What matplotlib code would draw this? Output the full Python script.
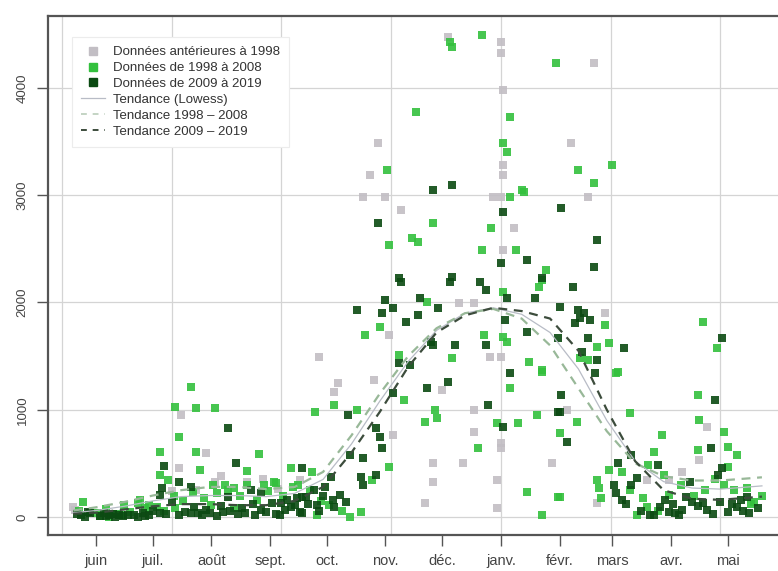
import matplotlib.pyplot as plt
from matplotlib.lines import Line2D

plt.rcParams["font.family"] = ["Liberation Sans", "DejaVu Sans"]

# x = days since 1 June, y = value
MONTH_DAYS = [0, 30, 61, 92, 122, 153, 183, 214, 245, 273, 304, 334]
MONTH_LABELS = ["juin", "juil.", "août", "sept.", "oct.", "nov.", "déc.",
                "janv.", "févr.", "mars", "avr.", "mai"]
Y_TICKS = [0, 1000, 2000, 3000, 4000]
GRID_DAYS = [-18, 40, 98, 156, 214, 272, 330]

# Données antérieures à 1998
old_x = [45, 58, 44, 63, -11, 128, 126, 147, 183, 200, 200, 214, 214, 157, 178,
         194, 178, 174, 212, 212, 241, 108, 249, 323, 319, 291, 310, 303, 265,
         263, 251, 260, 269, 141, 153, 161, 210, 214, 221, 215, 192, 200, 155,
         118, 208, 214, 186, 214, 214, 215, 149, 145, 215, 215, 53, 80,
         -12, 40, 66, 88, 96]
old_y = [951, 597, 457, 326, 65, 1249, 1165, 1277, 1184, 998, 793, 690, 643, 765,
         503, 503, 326, 130, 345, 84, 503, 345, 998, 839, 531, 345, 420, 345, 130,
         4233, 3487, 2984, 1902, 2984, 2984, 2862, 2984, 2984, 2695, 2490, 1995,
         1995, 1697, 1492, 1492, 1492, 4476, 4429, 4326, 3981, 3487, 3189, 3282,
         3189, 252, 326,
         90, 240, 380, 350, 260]

# Données de 1998 à 2008
mid_x = [-7, 2, 7, 13, 22, 23, 32, 50, 42, 53, 63, 44, 34, 53, 86, 55, 80, 103,
         34, 38, 68, 73, 64, 80, 89, 95, 104, 15, 26, 42, 61, 73, 94, 116, 126,
         138, 163, 179, 180, 174, 219, 236, 212, 223, 233, 202, 228, 236, 244,
         155, 114, 146, 117, 123, 134, 140, 275, 254, 245, 282, 299, 318, 319,
         332, 318, 334, 339, 295, 292, 271, 334, 332, 344, 265, 266, 267, 245,
         322, 289, 291, 286, 303, 278, 348, 243, 255, 263, 273, 269, 265, 271,
         256, 260, 276, 321, 328, 178, 155, 167, 170, 219, 226, 209, 204, 222,
         238, 236, 234, 215, 175, 150, 142, 205, 215, 217, 188, 160, 229, 236,
         187, 188, 204, 169, 219, 154, 215, 217, 225,
         -9, 0, 5, 11, 18, 28, 36, 41, 46, 51, 57, 62, 70, 76, 85, 91, 99, 107,
         113, 119, 130, 282, 297, 309, 316, 327, 346, 352, 300, 337]
mid_y = [140, 9, 0, 19, 130, 158, 93, 1212, 1026, 1016, 1016, 746, 606, 606, 587,
         438, 429, 457, 392, 345, 298, 270, 224, 298, 298, 317, 280, 112, 84, 84,
         112, 84, 326, 979, 1044, 998, 1091, 998, 923, 886, 1203, 1352, 876, 876,
         951, 643, 233, 19, 186, 466, 420, 345, 19, 112, 0, 47, 1343, 886, 783,
         970, 765, 1138, 904, 793, 625, 653, 578, 606, 485, 438, 466, 298, 270,
         345, 270, 177, 186, 252, 177, 93, 19, 205, 420, 140, 4233, 3235, 3114,
         3282, 1790, 1585, 1622, 1482, 1464, 1352, 1818, 1576, 2741, 2536, 2601,
         2564, 2984, 3030, 2695, 2490, 2490, 2303, 2210, 2145, 2098, 2005, 1772,
         1697, 1697, 1678, 1632, 1482, 1510, 1445, 1371, 4429, 4382, 4494, 3776,
         3730, 3235, 3487, 3403, 3049,
         60, 40, 70, 30, 50, 110, 60, 200, 150, 230, 180, 300, 250, 200, 160,
         240, 200, 300, 250, 150, 60, 250, 60, 300, 200, 350, 120, 200, 390, 250]

# Données de 2009 à 2019
new_x = [-8, -6, -3, 7, 20, 25, 34, 5, 10, 12, 22, 26, 35, 36, 34, 40, 44, 50,
         70, 74, 82, 87, 70, 101, 98, 109, 109, 44, 54, 58, 64, 67, 75, 77, 84,
         87, 95, 100, 105, 108, 50, 124, 121, 115, 111, 129, 132, 109, 117, 125,
         134, 141, 140, 141, 148, 133, 157, 175, 186, 207, 219, 215, 244, 148,
         150, 151, 264, 246, 245, 249, 327, 325, 283, 297, 276, 331, 329, 286,
         283, 274, 275, 278, 314, 293, 295, 301, 303, 306, 312, 315, 310, 321,
         323, 334, 339, 341, 344, 345, 330, 246, 265, 263, 252, 245, 255, 258,
         261, 256, 253, 244, 260, 279, 257, 265, 331, 178, 188, 149, 215, 214,
         228, 236, 160, 161, 188, 187, 203, 206, 217, 232, 153, 171, 138, 157,
         151, 181, 170, 164, 216, 228, 177, 178, 190, 206, 160, 166,
         -10, -4, 2, 4, 9, 14, 17, 28, 30, 37, 47, 52, 56, 60, 66, 71, 79, 83,
         90, 93, 97, 103, 106, 112, 118, 120, 126,
         280, 288, 298, 305, 318, 326, 336, 342, 350, 308]
new_y = [19, 0, 37, 19, 19, 37, 37, 9, 0, 19, 0, 9, 270, 475, 205, 140, 326, 280,
         830, 503, 252, 224, 186, 158, 130, 186, 457, 19, 37, 65, 9, 47, 28, 84,
         19, 65, 28, 65, 112, 47, 37, 373, 280, 252, 186, 205, 140, 37, 112, 158,
         578, 550, 373, 298, 392, 951, 1156, 1203, 1259, 1044, 1343, 839, 979,
         830, 746, 643, 1343, 1138, 979, 699, 1091, 643, 578, 485, 503, 457, 392,
         364, 298, 298, 224, 158, 326, 19, 19, 158, 47, 37, 186, 140, 65, 130,
         65, 47, 93, 158, 186, 37, 140, 2881, 2583, 2331, 2145, 1958, 1930, 1902,
         1837, 1855, 1809, 1669, 1669, 1576, 1538, 1464, 1669, 3049, 3096, 2741,
         2844, 2368, 2396, 2228, 2228, 2191, 2238, 2191, 2191, 2117, 2042, 2042,
         2023, 2042, 1930, 1949, 1902, 1949, 1883, 1818, 1837, 1725, 1632, 1604,
         1604, 1604, 1436, 1417,
         30, 50, 10, 40, 30, 5, 20, 15, 60, 25, 50, 90, 20, 40, 100, 60, 40, 120,
         50, 130, 20, 90, 180, 120, 60, 200, 90,
         120, 60, 90, 120, 100, 30, 120, 60, 80, 20]

# Smoothed trends
trend_x = [-12, 0, 15, 30, 45, 60, 75, 90, 105, 120, 135, 150, 165, 180, 195,
           210, 225, 240, 255, 270, 285, 300, 315, 330, 345, 352]
trend_all = [40, 60, 100, 150, 190, 200, 200, 190, 220, 350, 680, 1080, 1450,
             1740, 1900, 1950, 1890, 1720, 1380, 900, 520, 330, 270, 260, 280, 290]
trend_9808 = [60, 90, 140, 200, 250, 280, 280, 260, 280, 420, 760, 1150, 1500,
              1760, 1900, 1940, 1850, 1600, 1200, 800, 500, 380, 340, 340, 360, 370]
trend_0919 = [30, 40, 70, 100, 120, 120, 110, 110, 150, 280, 600, 980, 1400,
              1720, 1880, 1950, 1920, 1850, 1550, 1000, 520, 250, 170, 160, 180, 190]

GRAY = "#c2bec4"
LIGHT = "#33c03d"
DARK = "#0b4a12"
TICK_TEXT = "#444444"

fig = plt.figure(figsize=(7.78, 5.71), dpi=100)
ax = fig.add_axes([48 / 778, 36 / 571, 730 / 778, 519 / 571])

for gx in GRID_DAYS:
    ax.axvline(gx, color="#d4d4d4", lw=0.9, zorder=0)
for gy in Y_TICKS:
    ax.axhline(gy, color="#d4d4d4", lw=0.9, zorder=0)

ms = 40
ax.scatter(old_x, old_y, s=ms, marker="s", color=GRAY, lw=0, alpha=0.9, zorder=2)
ax.scatter(mid_x, mid_y, s=ms, marker="s", color=LIGHT, lw=0, alpha=0.9, zorder=3)
ax.scatter(new_x, new_y, s=ms, marker="s", color=DARK, lw=0, alpha=0.9, zorder=4)

ax.plot(trend_x, trend_all, color="#b8bcc6", lw=0.9, zorder=5)
ax.plot(trend_x, trend_9808, color="#98b898", lw=1.6, ls=(0, (4, 3)), zorder=5)
ax.plot(trend_x, trend_0919, color="#3c4c3c", lw=1.6, ls=(0, (4, 3)), zorder=5)

ax.set_xlim(-25.4, 360.5)
ax.set_ylim(-168, 4671)
ax.set_xticks(MONTH_DAYS)
ax.set_xticklabels(MONTH_LABELS, fontsize=10.5, color=TICK_TEXT)
ax.set_yticks(Y_TICKS)
ax.set_yticklabels([str(v) for v in Y_TICKS], fontsize=9.5, color=TICK_TEXT,
                   rotation=90, va="center")
ax.tick_params(axis="both", length=8, width=1, color="#555555")
ax.tick_params(axis="x", pad=6)
ax.tick_params(axis="y", pad=6)

for side in ["left", "bottom", "top"]:
    ax.spines[side].set_color("#555555")
    ax.spines[side].set_linewidth(1.6)
ax.spines["right"].set_visible(False)

handles = [
    Line2D([], [], marker="s", ls="none", color=GRAY, markersize=6),
    Line2D([], [], marker="s", ls="none", color=LIGHT, markersize=6),
    Line2D([], [], marker="s", ls="none", color=DARK, markersize=6),
    Line2D([], [], color="#b8bcc6", lw=0.9),
    Line2D([], [], color="#c4d4c4", lw=1.4, ls=(0, (3, 3))),
    Line2D([], [], color="#3c4c3c", lw=1.4, ls=(0, (3, 3))),
]
labels = ["Données antérieures à 1998", "Données de 1998 à 2008",
          "Données de 2009 à 2019", "Tendance (Lowess)",
          "Tendance 1998 – 2008", "Tendance 2009 – 2019"]
leg = ax.legend(handles, labels, loc="upper left", bbox_to_anchor=(0.033, 0.96),
                borderaxespad=0, fontsize=9.5, frameon=True, fancybox=False,
                framealpha=1, edgecolor="#ececec", labelspacing=0.28,
                handlelength=1.8, handletextpad=0.6, borderpad=0.7)
leg.get_frame().set_linewidth(0.8)
for t in leg.get_texts():
    t.set_color("#333333")
leg.set_zorder(10)

fig.savefig("out.png", dpi=100)
